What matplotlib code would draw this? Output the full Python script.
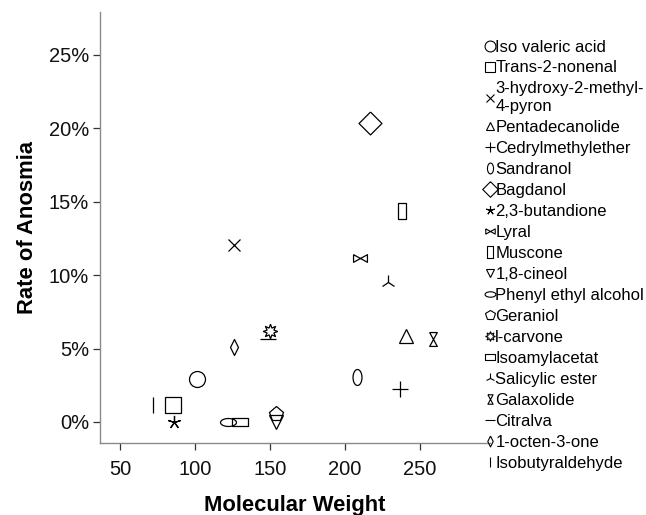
import matplotlib
matplotlib.use("Agg")
import matplotlib.pyplot as plt
from matplotlib.lines import Line2D
from matplotlib.ticker import FuncFormatter
import numpy as np

plt.rcParams['font.family'] = ['Liberation Sans', 'DejaVu Sans']

compounds = ["Iso valeric acid", "Trans-2-nonenal", "3-hydroxy-2-methyl-\n4-pyron",
             "Pentadecanolide", "Cedrylmethylether", "Sandranol", "Bagdanol",
             "2,3-butandione", "Lyral", "Muscone", "1,8-cineol", "Phenyl ethyl alcohol",
             "Geraniol", "l-carvone", "Isoamylacetat", "Salicylic ester", "Galaxolide",
             "Citralva", "1-octen-3-one", "Isobutyraldehyde"]
molecular_weight = [101.7, 85.2, 125.9, 240.9, 236.6, 208.4, 216.6, 86.1, 210.4, 238.4,
                    154.5, 121.9, 154.5, 150.2, 130.0, 228.6, 258.7, 149.1, 125.9, 72.0]
rate_of_anosmia = [2.90, 1.13, 12.04, 5.85, 2.27, 3.06, 20.36, 0.0, 11.18, 14.35,
                   0.0, 0.0, 0.57, 6.19, 0.0, 9.52, 5.62, 5.67, 5.12, 1.13]
x_ticks = [50, 100, 150, 200, 250]
y_ticks = [0, 5, 10, 15, 20, 25]


def ellipse(w, h):
    t = np.linspace(0, 2 * np.pi, 40)
    return list(zip(w * np.cos(t), h * np.sin(t)))


def rect(w, h):
    return [(-w, -h), (w, -h), (w, h), (-w, h), (-w, -h)]


bowtie = [(-1, 0.55), (-1, -0.55), (1, 0.55), (1, -0.55), (-1, 0.55)]
hourglass = [(-0.55, 1), (0.55, 1), (-0.55, -1), (0.55, -1), (-0.55, 1)]
big_diamond = [(0, 1), (1, 0), (0, -1), (-1, 0), (0, 1)]
thin_diamond = [(0, 1), (0.5, 0), (0, -1), (-0.5, 0), (0, 1)]

# (marker, size in points)
styles = [
    ('o', 11.5), ('s', 11.0), ('x', 8.0), ('^', 9.5), ('+', 11.0),
    (ellipse(0.56, 1.0), 11.5), (big_diamond, 16.5), ((5, 2, 0), 9.5),
    (bowtie, 10.0), (rect(0.47, 1.0), 12.2), ('v', 9.5), (ellipse(1.0, 0.5), 11.5),
    ('p', 11.0), ((8, 1, 0), 10.5), (rect(1.0, 0.5), 11.5), ('2', 10.5),
    (hourglass, 10.0), ('_', 11.0), (thin_diamond, 11.5), ('|', 11.5),
]

fig = plt.figure(figsize=(6.46, 5.15), dpi=100)
ax = fig.add_axes([100 / 646, 72 / 515, 390 / 646, 431 / 515])

handles = []
for name, x, y, (m, ms) in zip(compounds, molecular_weight, rate_of_anosmia, styles):
    ax.plot([x], [y], linestyle='none', marker=m, markersize=ms,
            markerfacecolor='none', markeredgecolor='black', markeredgewidth=0.9,
            clip_on=False)
    handles.append(Line2D([], [], linestyle='none', marker=m, markersize=ms * 0.68,
                          markerfacecolor='none', markeredgecolor='black',
                          markeredgewidth=0.8, label=name))

ax.set_xlim(36.7, 297)
ax.set_ylim(-1.43, 27.9)
ax.set_xticks(x_ticks)
ax.set_yticks(y_ticks)
ax.yaxis.set_major_formatter(FuncFormatter(lambda v, p: f"{v:.0f}%"))

for s in ['top', 'right']:
    ax.spines[s].set_visible(False)
for s in ['left', 'bottom']:
    ax.spines[s].set_color('#8a8a8a')
    ax.spines[s].set_linewidth(1.0)
ax.tick_params(axis='both', direction='out', length=5, width=0.9, color='#333333',
               labelsize=14.5, labelcolor='#111111')
ax.tick_params(axis='x', pad=7)
ax.tick_params(axis='y', pad=3)

ax.set_xlabel("Molecular Weight", fontsize=15.8, fontweight='bold', labelpad=12)
ax.set_ylabel("Rate of Anosmia", fontsize=15.8, fontweight='bold', labelpad=8)

fig.legend(handles=handles, loc='upper left', bbox_to_anchor=(484.5 / 646, 1 - 39.5 / 515),
           bbox_transform=fig.transFigure, frameon=False, fontsize=12,
           handlelength=0.6, handletextpad=0.05, labelspacing=0.36,
           borderpad=0, borderaxespad=0, numpoints=1)

fig.savefig("out.png", dpi=100)
